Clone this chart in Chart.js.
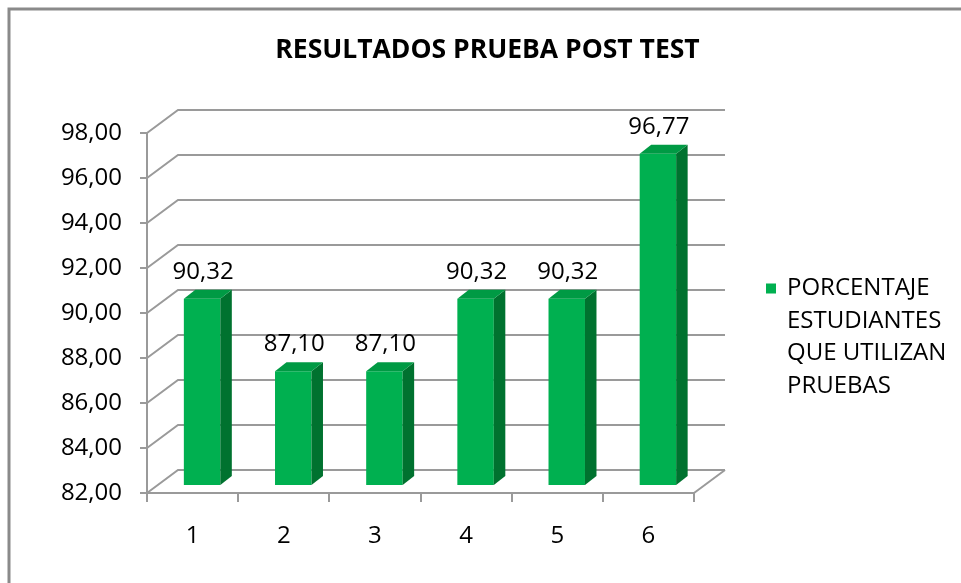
<!DOCTYPE html>
<html><head><meta charset="utf-8">
<script src="https://cdn.jsdelivr.net/npm/chart.js@4.4.1/dist/chart.umd.min.js"></script>
<style>html,body{margin:0;padding:0;background:#fff;} #wrap{width:961px;height:583px;position:relative;}</style>
</head><body><div id="wrap"><canvas id="c"></canvas></div>
<script>
const categories = ['1', '2', '3', '4', '5', '6'];
const values = [90.32, 87.10, 87.10, 90.32, 90.32, 96.77];
const yTicks = [82, 84, 86, 88, 90, 92, 94, 96, 98];
const seriesLabel = 'PORCENTAJE ESTUDIANTES QUE UTILIZAN PRUEBAS';
const legendLines = ['PORCENTAJE', 'ESTUDIANTES', 'QUE UTILIZAN', 'PRUEBAS'];
const titleText = 'RESULTADOS PRUEBA POST TEST';

const FONT = 'Open Sans';
const GRID = '#9a9a9a';
const FRONT = '#00B050';
const SIDE = '#00722F';
const TOP = '#009A44';
const WALL = {dx: 31, dy: -23};
const BAR = {ox: 9.5, oy: -7, dx: 11.5, dy: -9};
const fmt = v => Number(v).toFixed(2).replace('.', ',');

const threeD = {
  id: 'threeD',
  beforeDraw(chart) {
    const ctx = chart.ctx;
    ctx.save();
    ctx.strokeStyle = '#8a8a8a';
    ctx.lineWidth = 3;
    ctx.strokeRect(9, 9, 1200, 1200);
    ctx.restore();
  },
  beforeDatasetsDraw(chart) {
    const {ctx, chartArea: a, scales: {y}} = chart;
    ctx.save();
    ctx.strokeStyle = GRID;
    ctx.lineWidth = 2;
    yTicks.forEach(v => {
      const py = y.getPixelForValue(v);
      ctx.beginPath();
      ctx.moveTo(a.left, py);
      ctx.lineTo(a.left + WALL.dx, py + WALL.dy);
      ctx.lineTo(a.right + WALL.dx, py + WALL.dy);
      ctx.stroke();
    });
    const pb = y.getPixelForValue(yTicks[0]);
    ctx.beginPath();
    ctx.moveTo(a.right, pb);
    ctx.lineTo(a.right + WALL.dx, pb + WALL.dy);
    ctx.stroke();
    ctx.restore();
    ctx.save();
    ctx.translate(BAR.ox, BAR.oy);
  },
  afterDatasetsDraw(chart) {
    const ctx = chart.ctx;
    ctx.restore();
    const meta = chart.getDatasetMeta(0);
    ctx.save();
    meta.data.forEach((bar, i) => {
      const p = bar.getProps(['x', 'y', 'base', 'width'], true);
      const l = p.x - p.width / 2 + BAR.ox, r = p.x + p.width / 2 + BAR.ox;
      const t = p.y + BAR.oy, b = p.base + BAR.oy;
      ctx.fillStyle = SIDE;
      ctx.beginPath();
      ctx.moveTo(r, t); ctx.lineTo(r + BAR.dx, t + BAR.dy);
      ctx.lineTo(r + BAR.dx, b + BAR.dy); ctx.lineTo(r, b); ctx.closePath();
      ctx.fill();
      ctx.fillStyle = TOP;
      ctx.beginPath();
      ctx.moveTo(l, t); ctx.lineTo(r, t);
      ctx.lineTo(r + BAR.dx, t + BAR.dy); ctx.lineTo(l + BAR.dx, t + BAR.dy); ctx.closePath();
      ctx.fill();
      ctx.fillStyle = '#000';
      ctx.font = '24px "' + FONT + '"';
      ctx.textAlign = 'center';
      ctx.textBaseline = 'middle';
      ctx.fillText(fmt(values[i]), p.x + BAR.ox + 1, t - 27);
    });
    ctx.restore();
  },
  afterDraw(chart) {
    const {ctx, chartArea: a} = chart;
    const lx = a.right + 72, ly = a.top + 155.5;
    ctx.save();
    ctx.fillStyle = FRONT;
    ctx.fillRect(lx, ly - 5, 10, 10);
    ctx.fillStyle = '#000';
    ctx.font = '24px "' + FONT + '"';
    ctx.textAlign = 'left';
    ctx.textBaseline = 'middle';
    legendLines.forEach((s, i) => ctx.fillText(s, lx + 21, ly + i * 32.5));
    ctx.restore();
  }
};

new Chart(document.getElementById('c'), {
  type: 'bar',
  data: {
    labels: categories,
    datasets: [{
      label: seriesLabel,
      data: values,
      backgroundColor: FRONT,
      borderWidth: 0,
      base: yTicks[0],
      categoryPercentage: 1,
      barPercentage: 0.4,
      clip: false
    }]
  },
  options: {
    responsive: true,
    maintainAspectRatio: false,
    animation: false,
    events: [],
    layout: {padding: {left: 14, top: 0, right: 0, bottom: 0}},
    plugins: {
      legend: {display: false},
      tooltip: {enabled: false},
      title: {
        display: true,
        text: titleText,
        color: '#000',
        font: {family: FONT, size: 26.5, weight: 'bold'},
        padding: {top: 34.1, bottom: 67.1}
      }
    },
    scales: {
      x: {
        offset: true,
        grid: {offset: true, drawOnChartArea: false, drawTicks: true, tickLength: 9, color: GRID, lineWidth: 2},
        border: {display: true, color: GRID, width: 2},
        ticks: {font: {family: FONT, size: 24}, color: '#000', padding: 20},
        afterFit: s => { s.height = 90; }
      },
      y: {
        min: 82, max: 98,
        afterBuildTicks: s => { s.ticks = yTicks.map(v => ({value: v})); },
        grid: {drawOnChartArea: false, drawTicks: true, tickLength: 7, color: GRID, lineWidth: 2},
        border: {display: true, color: GRID, width: 2},
        ticks: {font: {family: FONT, size: 24}, color: '#000', padding: 18, callback: v => fmt(v)},
        afterFit: s => { s.width = 133; }
      },
      yR: {
        position: 'right',
        display: true,
        grid: {display: false},
        border: {display: false},
        ticks: {display: false},
        afterFit: s => { s.width = 267; }
      }
    }
  },
  plugins: [threeD]
});
</script>
</body></html>
